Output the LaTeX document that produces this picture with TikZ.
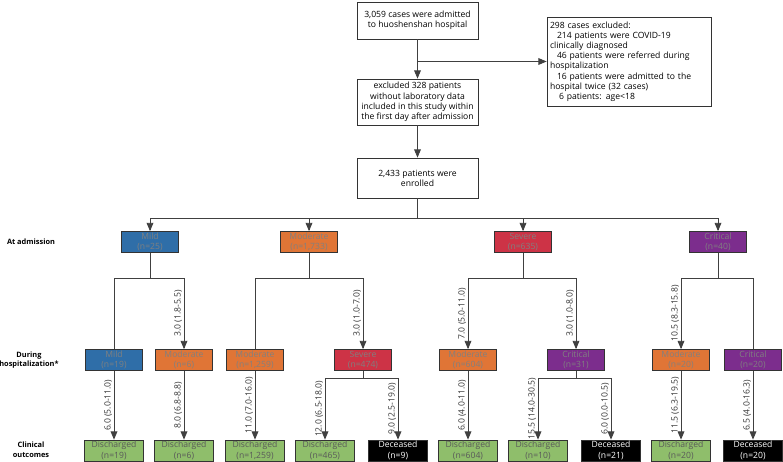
\documentclass[tikz,border=0pt]{standalone}
\usepackage{fontspec}
\setmainfont{Open Sans}
\usepackage{tikz}
\usetikzlibrary{arrows}
\definecolor{mildc}{HTML}{2F6EA8}
\definecolor{modc}{HTML}{E07536}
\definecolor{sevc}{HTML}{CD3346}
\definecolor{critc}{HTML}{7C2D8D}
\definecolor{disc}{HTML}{8FBE6B}
\newcommand{\fs}{\fontsize{8.6}{10.2}\selectfont}
\tikzset{
  box/.style={draw=black!80, line width=0.8pt, fill=white, align=center, inner sep=1pt, font=\fs},
  grade/.style={draw=black!80, line width=0.8pt, minimum width=57pt, minimum height=21pt, inner sep=0pt, align=center, text=black!50, font=\fs},
  mild/.style={grade, fill=mildc},
  moderate/.style={grade, fill=modc},
  severe/.style={grade, fill=sevc},
  critical/.style={grade, fill=critc},
  discharged/.style={grade, fill=disc, minimum width=59pt, text=black!65},
  deceased/.style={grade, fill=black, minimum width=59pt, text=white},
  link/.style={draw=black!75, line width=0.9pt},
  flow/.style={link, arrows={-triangle 45}},
  days/.style={rotate=90, anchor=south, inner sep=1.5pt, font=\fs, text=black!80},
  rowlab/.style={align=center, font=\fontsize{7.4}{9.6}\selectfont\bfseries}
}
\newcommand{\stage}[5]{\node[#3] (#1) at (#4,#5) {#2};}
\newcommand{\fork}[5]{\coordinate (#1) at (#2,#3); \coordinate (#1l) at (#4,#3); \coordinate (#1r) at (#5,#3);}
\begin{document}
\begin{tikzpicture}[x=1pt,y=-1pt]
	\useasboundingbox (0,0) rectangle (783,462);

	\node[box, minimum width=121pt, minimum height=37pt] (admit) at (417.5,20.5) {3,059 cases were admitted\\to huoshenshan hospital};
	\node[box, minimum width=121pt, minimum height=46pt] (nolab) at (417.5,102) {excluded 328 patients\\without laboratory data\\included in this study within\\the first day after admission};
	\node[box, minimum width=121pt, minimum height=40pt] (enrol) at (417.5,178) {2,433 patients were\\enrolled};
	\node[box, minimum width=164pt, minimum height=89pt, text width=158pt, align=left] (excl) at (629,61.5) {298 cases excluded:\\\hspace*{7pt}214 patients were COVID-19\\clinically diagnosed\\\hspace*{7pt}46 patients were referred during\\hospitalization\\\hspace*{7pt}16 patients were admitted to the\\hospital twice (32 cases)\\\hspace*{9pt}6 patients: age<18};
	\coordinate (split) at (417.5,61.5);
	\draw[flow] (admit) -- (nolab);
	\draw[flow] (split) -- (excl);
	\draw[flow] (nolab) -- (enrol);

	\node[rowlab] (lab1) at (31,242) {At admission};
	\node[rowlab] (lab2) at (29,360) {During\\hospitalization*};
	\node[rowlab] (lab3) at (31,450) {Clinical\\outcomes};

	\stage{mildA}{Mild\\(n=25)}{mild}{150}{242}
	\stage{modA}{Moderate\\(n=1,733)}{moderate}{309}{242}
	\stage{sevA}{Severe\\(n=635)}{severe}{523}{242}
	\stage{critA}{Critical\\(n=40)}{critical}{718}{242}

	\fork{top}{417.5}{218}{150}{718}
	\draw[link] (enrol) -- (top) (topl) -- (topr);
	\coordinate (top2) at (309,218);
	\coordinate (top3) at (523,218);
	\draw[flow] (topl) -- (mildA);
	\draw[flow] (top2) -- (modA);
	\draw[flow] (top3) -- (sevA);
	\draw[flow] (topr) -- (critA);

	\stage{mildB}{Mild\\(n=19)}{mild}{114}{360}
	\stage{modB}{Moderate\\(n=6)}{moderate}{184}{360}
	\stage{modC}{Moderate\\(n=1,259)}{moderate}{255}{360}
	\stage{sevB}{Severe\\(n=474)}{severe}{363}{360}
	\stage{modD}{Moderate\\(n=604)}{moderate}{468}{360}
	\stage{critB}{Critical\\(n=31)}{critical}{576}{360}
	\stage{modE}{Moderate\\(n=20)}{moderate}{681}{360}
	\stage{critC}{Critical\\(n=20)}{critical}{753}{360}

	\fork{f1}{150}{278}{114}{184}
	\draw[link] (mildA) -- (f1) (f1l) -- (f1r);
	\draw[link] (f1l) -- (mildB);
	\draw[flow] (f1r) -- node[days]{3.0 (1.8-5.5)} (modB);
	\fork{f2}{309}{278}{255}{363}
	\draw[link] (modA) -- (f2) (f2l) -- (f2r);
	\draw[link] (f2l) -- (modC);
	\draw[flow] (f2r) -- node[days]{3.0 (1.0-7.0)} (sevB);
	\fork{f3}{523}{278}{468}{576}
	\draw[link] (sevA) -- (f3) (f3l) -- (f3r);
	\draw[flow] (f3l) -- node[days]{7.0 (5.0-11.0)} (modD);
	\draw[flow] (f3r) -- node[days]{3.0 (1.0-8.0)} (critB);
	\fork{f4}{718}{278}{681}{753}
	\draw[link] (critA) -- (f4) (f4l) -- (f4r);
	\draw[flow] (f4l) -- node[days]{10.5 (8.3-15.8)} (modE);
	\draw[link] (f4r) -- (critC);

	\stage{dis1}{Discharged\\(n=19)}{discharged}{114}{450.5}
	\stage{dis2}{Discharged\\(n=6)}{discharged}{184}{450.5}
	\stage{dis3}{Discharged\\(n=1,259)}{discharged}{255}{450.5}
	\stage{dis4}{Discharged\\(n=465)}{discharged}{325}{450.5}
	\stage{dec1}{Deceased\\(n=9)}{deceased}{398}{450.5}
	\stage{dis5}{Discharged\\(n=604)}{discharged}{468}{450.5}
	\stage{dis6}{Discharged\\(n=10)}{discharged}{538}{450.5}
	\stage{dec2}{Deceased\\(n=21)}{deceased}{611}{450.5}
	\stage{dis7}{Discharged\\(n=20)}{discharged}{681}{450.5}
	\stage{dec3}{Deceased\\(n=20)}{deceased}{753}{450.5}

	\draw[flow] (mildB) -- node[days]{6.0 (5.0-11.0)} (dis1);
	\draw[flow] (modB) -- node[days]{8.0 (6.8-8.8)} (dis2);
	\draw[flow] (modC) -- node[days]{11.0 (7.0-16.0)} (dis3);
	\fork{f5}{363}{378}{325}{398}
	\draw[link] (sevB) -- (f5) (f5l) -- (f5r);
	\draw[flow] (f5l) -- node[days]{12.0 (6.5-18.0)} (dis4);
	\draw[flow] (f5r) -- node[days]{9.0 (2.5-19.0)} (dec1);
	\draw[flow] (modD) -- node[days]{6.0 (4.0-11.0)} (dis5);
	\fork{f6}{576}{378}{538}{611}
	\draw[link] (critB) -- (f6) (f6l) -- (f6r);
	\draw[flow] (f6l) -- node[days]{15.5 (14.0-30.5)} (dis6);
	\draw[flow] (f6r) -- node[days]{6.0 (0.0-10.5)} (dec2);
	\draw[flow] (modE) -- node[days]{11.5 (6.3-19.5)} (dis7);
	\draw[flow] (critC) -- node[days]{6.5 (4.0-16.3)} (dec3);
\end{tikzpicture}
\end{document}
